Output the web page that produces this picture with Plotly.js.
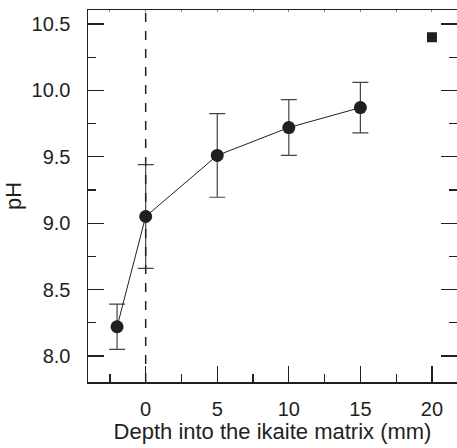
<!DOCTYPE html>
<html>
<head>
<meta charset="utf-8">
<script src="https://cdn.plot.ly/plotly-3.0.1.min.js"></script>
<style>html,body{margin:0;padding:0;background:#fff;}#chart{width:457px;height:448px;}</style>
</head>
<body>
<div id="chart"></div>
<script>
// Data
const depth = [-2, 0, 5, 10, 15];
const ph = [8.22, 9.05, 9.51, 9.72, 9.87];
const phErr = [0.17, 0.39, 0.315, 0.21, 0.19];
const refDepth = [20];
const refPh = [10.4];
const boundaryDepth = 0;
const xTickVals = [0, 5, 10, 15, 20];
const yTickVals = [8.0, 8.5, 9.0, 9.5, 10.0, 10.5];
const xTitle = 'Depth into the ikaite matrix (mm)';
const yTitle = 'pH';

const FAM = 'Liberation Sans, Arial, sans-serif';
const INK = '#231f20';
const tickFont = {family: FAM, size: 20, color: INK};
const titleFont = {family: FAM, size: 22, color: INK};

const traces = [
  {
    x: depth, y: ph, type: 'scatter', mode: 'lines+markers',
    line: {color: INK, width: 1},
    marker: {symbol: 'circle', size: 13, color: INK},
    error_y: {type: 'data', array: phErr, visible: true, color: '#444', thickness: 1.2, width: 8},
    showlegend: false, hoverinfo: 'skip'
  },
  {
    x: refDepth, y: refPh, type: 'scatter', mode: 'markers',
    marker: {symbol: 'square', size: 10, color: INK},
    showlegend: false, hoverinfo: 'skip'
  },
  {
    x: refDepth, y: refPh, xaxis: 'x2', type: 'scatter', mode: 'markers',
    marker: {opacity: 0}, showlegend: false, hoverinfo: 'skip'
  }
];

const layout = {
  width: 457, height: 448,
  margin: {l: 88, r: 0, t: 10, b: 66},
  paper_bgcolor: '#fff', plot_bgcolor: '#fff',
  font: {family: FAM, size: 20, color: INK},
  xaxis: {
    range: [-4.03, 21.75], showgrid: false, zeroline: false,
    showline: true, linecolor: INK, linewidth: 1.5, mirror: true,
    ticks: 'inside', ticklen: 16, tickwidth: 1.2, tickcolor: INK,
    tickvals: xTickVals, ticktext: xTickVals.map(String), tickfont: tickFont,
    minor: {dtick: 2.5, tick0: 0, ticks: 'inside', ticklen: 8, tickwidth: 1.2, tickcolor: INK},
    ticklabelstandoff: 8,
    title: {text: xTitle, font: titleFont, standoff: 3}
  },
  xaxis2: {
    overlaying: 'x', side: 'top', matches: 'x', range: [-4.03, 21.75],
    showgrid: false, zeroline: false, showline: false,
    ticks: 'inside', ticklen: 2, tickcolor: '#888', dtick: 2.5, tick0: 0,
    showticklabels: false
  },
  yaxis: {
    range: [7.804, 10.605], showgrid: false, zeroline: false,
    showline: true, linecolor: INK, linewidth: 1.5, mirror: 'ticks',
    ticks: 'inside', ticklen: 16, tickwidth: 1.2, tickcolor: INK,
    tickvals: yTickVals, ticktext: yTickVals.map(v => v.toFixed(1)), tickfont: tickFont,
    minor: {dtick: 0.25, tick0: 0, ticks: 'inside', ticklen: 8, tickwidth: 1.2, tickcolor: INK},
    ticklabelstandoff: 12,
    title: {text: yTitle, font: titleFont, standoff: 4}
  },
  shapes: [{
    type: 'line', xref: 'x', yref: 'paper',
    x0: boundaryDepth, x1: boundaryDepth, y0: 0, y1: 1,
    line: {color: INK, width: 1.5, dash: 'dash'}
  }]
};

Plotly.newPlot('chart', traces, layout, {staticPlot: true, displayModeBar: false});
</script>
</body>
</html>
